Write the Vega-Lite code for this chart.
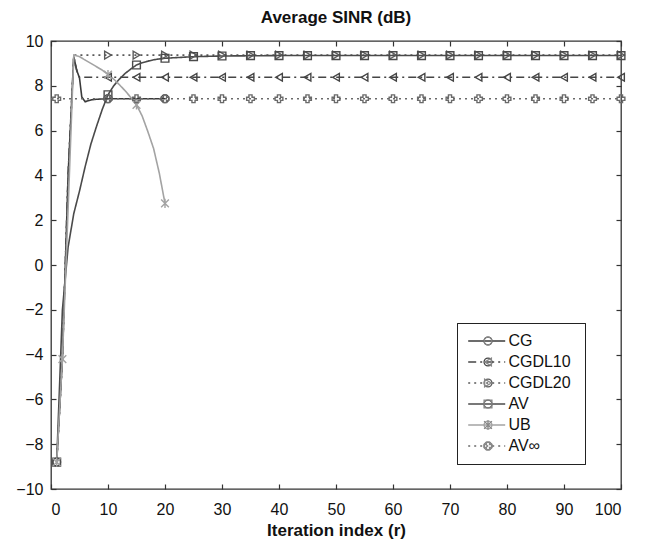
{
 "$schema": "https://vega.github.io/schema/vega-lite/v6.json",
 "width": 570, "height": 448,
 "autosize": {"type": "none"},
 "padding": {"left": 51, "top": 41, "right": 33, "bottom": 56},
 "background": "white",
 "title": {"text": "Average SINR (dB)", "fontSize": 17, "font": "Liberation Sans", "fontWeight": "bold", "color": "#111", "offset": 6},
 "config": {
  "view": {"stroke": "#333", "strokeWidth": 1.3},
  "font": "Liberation Sans",
  "axis": {"domain": false, "grid": false, "tickColor": "#333", "tickSize": -5, "tickWidth": 1.2, "labelFontSize": 16, "labelColor": "#111", "labelFont": "Liberation Sans", "titleFont": "Liberation Sans", "titleFontSize": 17, "titleFontWeight": "bold", "titleColor": "#111"}
 },
 "datasets": {
  "lines": [
   {"series": "CG", "r": 1, "sinr": -8.8}, {"series": "CG", "r": 2, "sinr": -4.2}, {"series": "CG", "r": 3, "sinr": 4.0}, {"series": "CG", "r": 4, "sinr": 9.3}, {"series": "CG", "r": 4.5, "sinr": 8.7}, {"series": "CG", "r": 5, "sinr": 8.35}, {"series": "CG", "r": 5.4, "sinr": 7.5}, {"series": "CG", "r": 6, "sinr": 7.29}, {"series": "CG", "r": 7, "sinr": 7.37}, {"series": "CG", "r": 8, "sinr": 7.4}, {"series": "CG", "r": 10, "sinr": 7.42}, {"series": "CG", "r": 20, "sinr": 7.42},
   {"series": "CGDL10", "r": 1, "sinr": -8.8}, {"series": "CGDL10", "r": 2, "sinr": -4.2}, {"series": "CGDL10", "r": 3, "sinr": 4.0}, {"series": "CGDL10", "r": 4, "sinr": 9.3}, {"series": "CGDL10", "r": 4.5, "sinr": 8.7}, {"series": "CGDL10", "r": 5, "sinr": 8.38}, {"series": "CGDL10", "r": 100, "sinr": 8.38},
   {"series": "CGDL20", "r": 1, "sinr": -8.8}, {"series": "CGDL20", "r": 2, "sinr": -4.2}, {"series": "CGDL20", "r": 3, "sinr": 4.0}, {"series": "CGDL20", "r": 4, "sinr": 9.37}, {"series": "CGDL20", "r": 100, "sinr": 9.37},
   {"series": "AV", "r": 1, "sinr": -8.8}, {"series": "AV", "r": 2, "sinr": -2.0}, {"series": "AV", "r": 3, "sinr": 0.8}, {"series": "AV", "r": 4, "sinr": 2.3}, {"series": "AV", "r": 5, "sinr": 3.3}, {"series": "AV", "r": 6, "sinr": 4.4}, {"series": "AV", "r": 7, "sinr": 5.4}, {"series": "AV", "r": 8, "sinr": 6.2}, {"series": "AV", "r": 9, "sinr": 6.95}, {"series": "AV", "r": 10, "sinr": 7.6}, {"series": "AV", "r": 11, "sinr": 8.0}, {"series": "AV", "r": 12, "sinr": 8.3}, {"series": "AV", "r": 13, "sinr": 8.55}, {"series": "AV", "r": 14, "sinr": 8.75}, {"series": "AV", "r": 15, "sinr": 8.93}, {"series": "AV", "r": 16, "sinr": 9.03}, {"series": "AV", "r": 17, "sinr": 9.1}, {"series": "AV", "r": 18, "sinr": 9.16}, {"series": "AV", "r": 19, "sinr": 9.2}, {"series": "AV", "r": 20, "sinr": 9.23}, {"series": "AV", "r": 25, "sinr": 9.3}, {"series": "AV", "r": 30, "sinr": 9.33}, {"series": "AV", "r": 40, "sinr": 9.35}, {"series": "AV", "r": 100, "sinr": 9.35},
   {"series": "UB", "r": 1, "sinr": -8.8}, {"series": "UB", "r": 2, "sinr": -4.2}, {"series": "UB", "r": 3, "sinr": 2.5}, {"series": "UB", "r": 4, "sinr": 9.37}, {"series": "UB", "r": 5, "sinr": 9.3}, {"series": "UB", "r": 6, "sinr": 9.15}, {"series": "UB", "r": 7, "sinr": 9.0}, {"series": "UB", "r": 8, "sinr": 8.85}, {"series": "UB", "r": 9, "sinr": 8.7}, {"series": "UB", "r": 10, "sinr": 8.5}, {"series": "UB", "r": 11, "sinr": 8.3}, {"series": "UB", "r": 12, "sinr": 8.05}, {"series": "UB", "r": 13, "sinr": 7.78}, {"series": "UB", "r": 14, "sinr": 7.48}, {"series": "UB", "r": 15, "sinr": 7.15}, {"series": "UB", "r": 16, "sinr": 6.65}, {"series": "UB", "r": 17, "sinr": 5.95}, {"series": "UB", "r": 18, "sinr": 5.2}, {"series": "UB", "r": 19, "sinr": 4.1}, {"series": "UB", "r": 20, "sinr": 2.75},
   {"series": "AV∞", "r": 0, "sinr": 7.42}, {"series": "AV∞", "r": 100, "sinr": 7.42}
  ],
  "marks": [
   {"curve": "CG", "r": 1, "sinr": -8.8}, {"curve": "CG", "r": 10, "sinr": 7.42}, {"curve": "CG", "r": 20, "sinr": 7.42},
   {"curve": "CGDL10", "r": 10, "sinr": 8.38}, {"curve": "CGDL10", "r": 15, "sinr": 8.38}, {"curve": "CGDL10", "r": 20, "sinr": 8.38}, {"curve": "CGDL10", "r": 25, "sinr": 8.38}, {"curve": "CGDL10", "r": 30, "sinr": 8.38}, {"curve": "CGDL10", "r": 35, "sinr": 8.38}, {"curve": "CGDL10", "r": 40, "sinr": 8.38}, {"curve": "CGDL10", "r": 45, "sinr": 8.38}, {"curve": "CGDL10", "r": 50, "sinr": 8.38}, {"curve": "CGDL10", "r": 55, "sinr": 8.38}, {"curve": "CGDL10", "r": 60, "sinr": 8.38}, {"curve": "CGDL10", "r": 65, "sinr": 8.38}, {"curve": "CGDL10", "r": 70, "sinr": 8.38}, {"curve": "CGDL10", "r": 75, "sinr": 8.38}, {"curve": "CGDL10", "r": 80, "sinr": 8.38}, {"curve": "CGDL10", "r": 85, "sinr": 8.38}, {"curve": "CGDL10", "r": 90, "sinr": 8.38}, {"curve": "CGDL10", "r": 95, "sinr": 8.38}, {"curve": "CGDL10", "r": 100, "sinr": 8.38},
   {"curve": "CGDL20", "r": 10, "sinr": 9.37}, {"curve": "CGDL20", "r": 15, "sinr": 9.37}, {"curve": "CGDL20", "r": 20, "sinr": 9.37}, {"curve": "CGDL20", "r": 25, "sinr": 9.37}, {"curve": "CGDL20", "r": 30, "sinr": 9.37}, {"curve": "CGDL20", "r": 35, "sinr": 9.37}, {"curve": "CGDL20", "r": 40, "sinr": 9.37}, {"curve": "CGDL20", "r": 45, "sinr": 9.37}, {"curve": "CGDL20", "r": 50, "sinr": 9.37}, {"curve": "CGDL20", "r": 55, "sinr": 9.37}, {"curve": "CGDL20", "r": 60, "sinr": 9.37}, {"curve": "CGDL20", "r": 65, "sinr": 9.37}, {"curve": "CGDL20", "r": 70, "sinr": 9.37}, {"curve": "CGDL20", "r": 75, "sinr": 9.37}, {"curve": "CGDL20", "r": 80, "sinr": 9.37}, {"curve": "CGDL20", "r": 85, "sinr": 9.37}, {"curve": "CGDL20", "r": 90, "sinr": 9.37}, {"curve": "CGDL20", "r": 95, "sinr": 9.37}, {"curve": "CGDL20", "r": 100, "sinr": 9.37},
   {"curve": "AV", "r": 1, "sinr": -8.8}, {"curve": "AV", "r": 10, "sinr": 7.6}, {"curve": "AV", "r": 15, "sinr": 8.93}, {"curve": "AV", "r": 20, "sinr": 9.23}, {"curve": "AV", "r": 25, "sinr": 9.3}, {"curve": "AV", "r": 30, "sinr": 9.33}, {"curve": "AV", "r": 35, "sinr": 9.35}, {"curve": "AV", "r": 40, "sinr": 9.35}, {"curve": "AV", "r": 45, "sinr": 9.35}, {"curve": "AV", "r": 50, "sinr": 9.35}, {"curve": "AV", "r": 55, "sinr": 9.35}, {"curve": "AV", "r": 60, "sinr": 9.35}, {"curve": "AV", "r": 65, "sinr": 9.35}, {"curve": "AV", "r": 70, "sinr": 9.35}, {"curve": "AV", "r": 75, "sinr": 9.35}, {"curve": "AV", "r": 80, "sinr": 9.35}, {"curve": "AV", "r": 85, "sinr": 9.35}, {"curve": "AV", "r": 90, "sinr": 9.35}, {"curve": "AV", "r": 95, "sinr": 9.35}, {"curve": "AV", "r": 100, "sinr": 9.35},
   {"curve": "UB", "r": 1, "sinr": -8.8}, {"curve": "UB", "r": 2, "sinr": -4.2}, {"curve": "UB", "r": 10, "sinr": 8.5}, {"curve": "UB", "r": 15, "sinr": 7.15}, {"curve": "UB", "r": 20, "sinr": 2.75},
   {"curve": "AV∞", "r": 1, "sinr": 7.42}, {"curve": "AV∞", "r": 10, "sinr": 7.42}, {"curve": "AV∞", "r": 15, "sinr": 7.42}, {"curve": "AV∞", "r": 20, "sinr": 7.42}, {"curve": "AV∞", "r": 25, "sinr": 7.42}, {"curve": "AV∞", "r": 30, "sinr": 7.42}, {"curve": "AV∞", "r": 35, "sinr": 7.42}, {"curve": "AV∞", "r": 40, "sinr": 7.42}, {"curve": "AV∞", "r": 45, "sinr": 7.42}, {"curve": "AV∞", "r": 50, "sinr": 7.42}, {"curve": "AV∞", "r": 55, "sinr": 7.42}, {"curve": "AV∞", "r": 60, "sinr": 7.42}, {"curve": "AV∞", "r": 65, "sinr": 7.42}, {"curve": "AV∞", "r": 70, "sinr": 7.42}, {"curve": "AV∞", "r": 75, "sinr": 7.42}, {"curve": "AV∞", "r": 80, "sinr": 7.42}, {"curve": "AV∞", "r": 85, "sinr": 7.42}, {"curve": "AV∞", "r": 90, "sinr": 7.42}, {"curve": "AV∞", "r": 95, "sinr": 7.42}, {"curve": "AV∞", "r": 100, "sinr": 7.42}
  ]
 },
 "resolve": {"axis": {"x": "independent", "y": "independent"}},
 "layer": [
  {
   "data": {"name": "lines"},
   "mark": {"type": "line", "strokeWidth": 1.6},
   "encoding": {
    "x": {"field": "r", "type": "quantitative", "scale": {"domain": [0, 100], "nice": false}, "axis": {"orient": "bottom", "values": [0, 10, 20, 30, 40, 50, 60, 70, 80, 90, 100], "title": "Iteration index (r)", "labelPadding": 17, "titlePadding": 5}},
    "y": {"field": "sinr", "type": "quantitative", "scale": {"domain": [-10, 10], "nice": false}, "axis": {"orient": "left", "values": [-10, -8, -6, -4, -2, 0, 2, 4, 6, 8, 10], "title": null, "labelPadding": 13}},
    "stroke": {"field": "series", "type": "nominal", "scale": {"domain": ["CG", "CGDL10", "CGDL20", "AV", "UB", "AV∞"], "range": ["#3a3a3a", "#454545", "#5a5a5a", "#4a4a4a", "#a3a3a3", "#6a6a6a"]},
     "legend": {"orient": "none", "legendX": 427.7, "legendY": 292, "title": null, "symbolType": "M-3.7,0H3.7", "symbolSize": 100, "symbolStrokeWidth": 1.6, "labelFontSize": 16, "labelFont": "Liberation Sans", "labelColor": "#111", "labelOffset": 13.7, "padding": 0, "rowPadding": 5}},
    "strokeDash": {"field": "series", "type": "nominal", "scale": {"domain": ["CG", "CGDL10", "CGDL20", "AV", "UB", "AV∞"], "range": [[1, 0], [8, 4, 2, 4], [2, 4], [1, 0], [1, 0], [2, 4]]},
     "legend": {"orient": "none", "legendX": 427.7, "legendY": 292, "title": null, "symbolType": "M-3.7,0H3.7", "symbolSize": 100, "symbolStrokeWidth": 1.6, "labelFontSize": 16, "labelFont": "Liberation Sans", "labelColor": "#111", "labelOffset": 13.7, "padding": 0, "rowPadding": 5}}
   }
  },
  {
   "data": {"name": "marks"},
   "mark": {"type": "point", "filled": false, "strokeWidth": 1.4, "size": 60, "opacity": 1},
   "encoding": {
    "x": {"field": "r", "type": "quantitative", "axis": {"orient": "top", "values": [0, 10, 20, 30, 40, 50, 60, 70, 80, 90, 100], "labels": false, "title": null}},
    "y": {"field": "sinr", "type": "quantitative", "axis": {"orient": "right", "values": [-10, -8, -6, -4, -2, 0, 2, 4, 6, 8, 10], "labels": false, "title": null}},
    "color": {"field": "curve", "type": "nominal", "sort": ["CG", "CGDL10", "CGDL20", "AV", "UB", "AV∞"], "scale": {"range": ["#3a3a3a", "#454545", "#5a5a5a", "#4a4a4a", "#a3a3a3", "#6a6a6a"]},
     "legend": {"orient": "none", "legendX": 406, "legendY": 282, "title": null, "labelFontSize": 16, "labelExpr": "''", "labelColor": "transparent", "labelOffset": 79, "symbolOffset": 13, "symbolSize": 60, "symbolStrokeWidth": 1.4, "padding": 10, "rowPadding": 5, "strokeColor": "#222"}},
    "shape": {"field": "curve", "type": "nominal", "sort": ["CG", "CGDL10", "CGDL20", "AV", "UB", "AV∞"], "scale": {"range": ["circle", "triangle-left", "triangle-right", "square", "M-1,-1L1,1M-1,1L1,-1M0,-1.2L0,1.2", "cross"]},
     "legend": {"orient": "none", "legendX": 406, "legendY": 282, "title": null, "labelFontSize": 16, "labelExpr": "''", "labelColor": "transparent", "labelOffset": 79, "symbolOffset": 13, "symbolSize": 60, "symbolStrokeWidth": 1.4, "padding": 10, "rowPadding": 5, "strokeColor": "#222"}}
   }
  }
 ]
}
